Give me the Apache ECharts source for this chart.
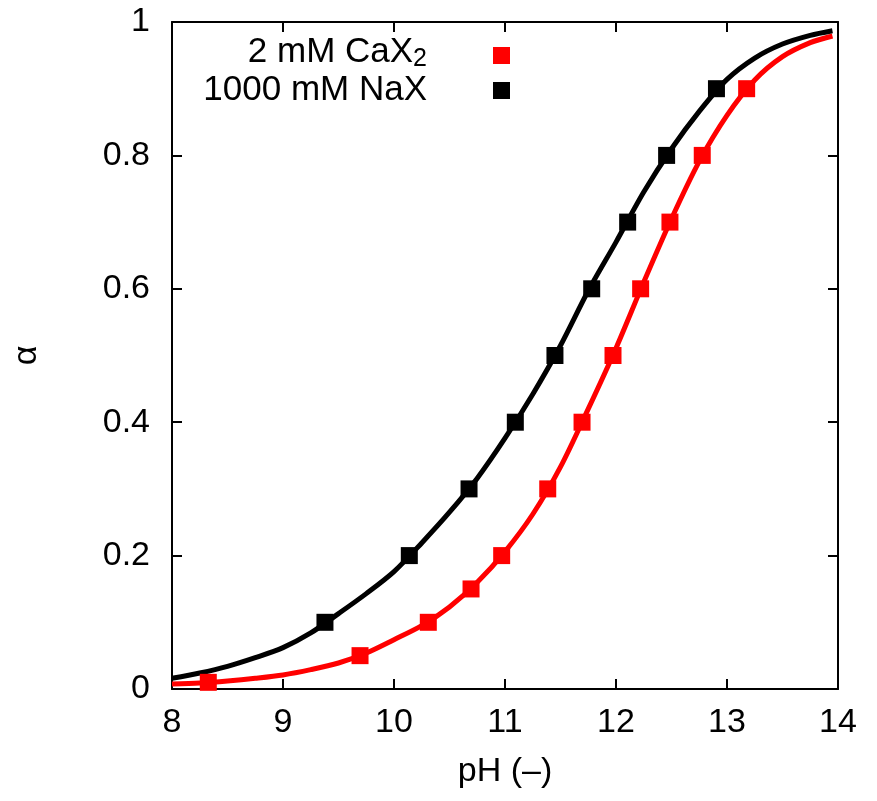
<!DOCTYPE html>
<html>
<head>
<meta charset="utf-8">
<script src="https://cdn.jsdelivr.net/npm/echarts@6/dist/echarts.min.js"></script>
<style>
  html, body { margin: 0; padding: 0; background: #fff; }
  #chart { width: 877px; height: 801px; }
</style>
</head>
<body>
<div id="chart"></div>
<script>
// Degree of dissociation alpha versus pH for two electrolyte conditions.
const xTicks = [8, 9, 10, 11, 12, 13, 14];
const yTicks = [0, 0.2, 0.4, 0.6, 0.8, 1];

// Measured points (pH, alpha)
const caPH    = [8.327, 9.694, 10.309, 10.694, 10.970, 11.385, 11.694, 11.973, 12.222, 12.486, 12.777, 13.177];
const caAlpha = [0.01, 0.05, 0.1, 0.15, 0.2, 0.3, 0.4, 0.5, 0.6, 0.7, 0.8, 0.9];
const naPH    = [9.378, 10.138, 10.676, 11.093, 11.450, 11.781, 12.105, 12.456, 12.905];
const naAlpha = [0.1, 0.2, 0.3, 0.4, 0.5, 0.6, 0.7, 0.8, 0.9];

// Fitted curves sampled along pH
const fitPH      = [8.00, 8.25, 8.50, 8.75, 9.00, 9.25, 9.50, 9.75, 10.00, 10.25, 10.50, 10.75, 11.00, 11.25, 11.50, 11.75, 12.00, 12.25, 12.50, 12.75, 13.00, 13.25, 13.50, 13.75, 13.95];
const caFitAlpha = [0.0075, 0.009, 0.012, 0.016, 0.021, 0.029, 0.039, 0.054, 0.074, 0.095, 0.123, 0.160, 0.206, 0.262, 0.333, 0.420, 0.511, 0.610, 0.705, 0.791, 0.860, 0.913, 0.948, 0.969, 0.979];
const naFitAlpha = [0.016, 0.024, 0.034, 0.047, 0.062, 0.084, 0.113, 0.143, 0.176, 0.219, 0.265, 0.316, 0.376, 0.442, 0.515, 0.597, 0.670, 0.745, 0.810, 0.866, 0.914, 0.946, 0.967, 0.980, 0.987];

const legendNames = ['2 mM CaX', '1000 mM NaX'];

const pair = (xs, ys) => xs.map((x, i) => [x, ys[i]]);

const RED = '#ff0000';
const BLACK = '#000000';
const FONT = '"Liberation Sans", Arial, Helvetica, sans-serif';
const FS = 34;

const chart = echarts.init(document.getElementById('chart'), null, { renderer: 'canvas' });

const axisLine = { show: true, onZero: false, lineStyle: { color: BLACK, width: 2 } };
const axisTick = { show: true, inside: true, length: 10, lineStyle: { color: BLACK, width: 2 } };

const option = {
  backgroundColor: '#ffffff',
  animation: false,
  grid: { left: 172, top: 22, width: 666, height: 667, containLabel: false, outerBoundsMode: 'none' },
  xAxis: [
    {
      type: 'value', min: xTicks[0], max: xTicks[xTicks.length - 1], interval: 1,
      axisLine, axisTick, splitLine: { show: false },
      axisLabel: { color: BLACK, fontFamily: FONT, fontSize: FS, margin: 17 },
      name: 'pH (\u2013)', nameLocation: 'middle', nameGap: 66,
      nameTextStyle: { color: BLACK, fontFamily: FONT, fontSize: FS }
    },
    {
      type: 'value', position: 'top', min: xTicks[0], max: xTicks[xTicks.length - 1], interval: 1,
      axisLine, axisTick, splitLine: { show: false }, axisLabel: { show: false }
    }
  ],
  yAxis: [
    {
      type: 'value', min: yTicks[0], max: yTicks[yTicks.length - 1], interval: 0.2,
      axisLine, axisTick, splitLine: { show: false },
      axisLabel: {
        color: BLACK, fontFamily: FONT, fontSize: FS, margin: 22,
        formatter: v => String(Math.round(v * 10) / 10)
      },
      name: '\u03b1', nameLocation: 'middle', nameGap: 128, nameRotate: 90,
      nameTextStyle: { color: BLACK, fontFamily: FONT, fontSize: FS }
    },
    {
      type: 'value', position: 'right', min: yTicks[0], max: yTicks[yTicks.length - 1], interval: 0.2,
      axisLine, axisTick, splitLine: { show: false }, axisLabel: { show: false }
    }
  ],
  series: [
    {
      name: 'CaX fit', type: 'line', data: pair(fitPH, caFitAlpha),
      showSymbol: false, smooth: 0.3, z: 2,
      lineStyle: { color: RED, width: 5 }
    },
    {
      name: 'NaX fit', type: 'line', data: pair(fitPH, naFitAlpha),
      showSymbol: false, smooth: 0.3, z: 3,
      lineStyle: { color: BLACK, width: 5 }
    },
    {
      name: legendNames[0], type: 'scatter', data: pair(caPH, caAlpha),
      symbol: 'rect', symbolSize: 17, z: 4,
      itemStyle: { color: RED, opacity: 1 }
    },
    {
      name: legendNames[1], type: 'scatter', data: pair(naPH, naAlpha),
      symbol: 'rect', symbolSize: 17, z: 5,
      itemStyle: { color: BLACK, opacity: 1 }
    }
  ],
  graphic: [
    {
      type: 'text', right: 877 - 427, top: 32,
      style: {
        text: '{t|' + legendNames[0] + '}{s|2}',
        rich: {
          t: { fontFamily: FONT, fontSize: 35, fill: BLACK, lineHeight: 36 },
          s: { fontFamily: FONT, fontSize: 25, fill: BLACK, lineHeight: 36, padding: [15, 0, 0, 0] }
        }
      }
    },
    {
      type: 'text', right: 877 - 427, top: 73,
      style: { text: legendNames[1], fontFamily: FONT, fontSize: 35, fill: BLACK }
    },
    { type: 'rect', shape: { x: 493, y: 47, width: 17, height: 17 }, style: { fill: RED } },
    { type: 'rect', shape: { x: 493, y: 82, width: 17, height: 17 }, style: { fill: BLACK } }
  ]
};

chart.setOption(option);
</script>
</body>
</html>
